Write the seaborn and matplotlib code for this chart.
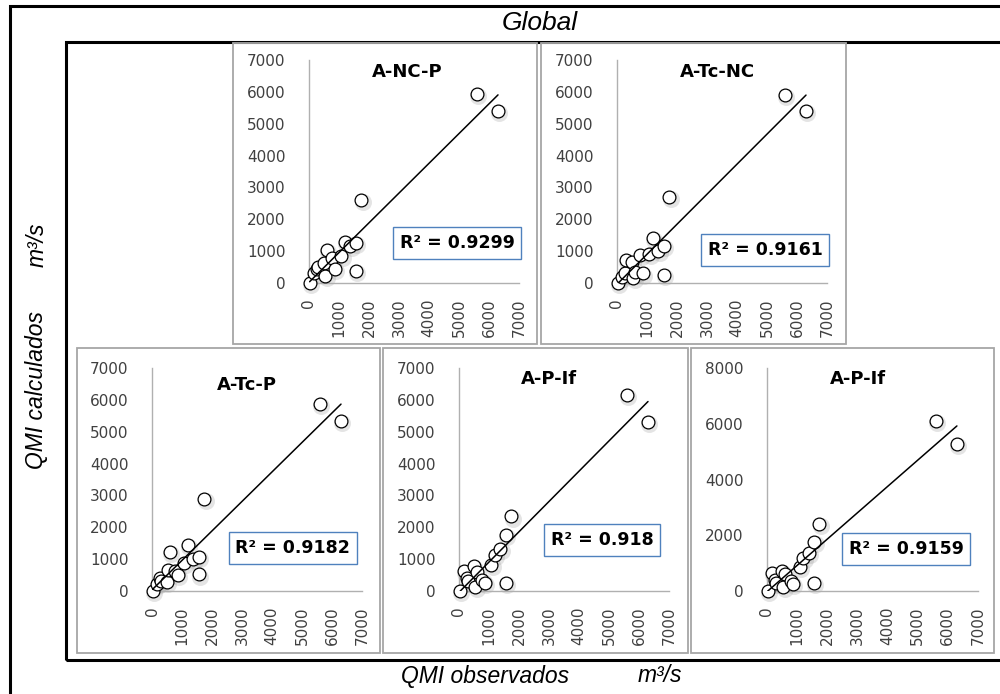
import numpy as np
import pandas as pd
import matplotlib
matplotlib.use("Agg")
import matplotlib.pyplot as plt
import matplotlib.transforms as mtransforms
from matplotlib.patches import Rectangle
import seaborn as sns

# QMI observados (m3/s), common to every model
OBSERVADOS = [20, 150, 250, 300, 500, 540, 600, 780, 850, 1080, 1200, 1380,
              1560, 1570, 1740, 5600, 6300]

# QMI calculados per model
CALC_A_NC_P = [0, 300, 430, 500, 630, 220, 1030, 770, 440, 840, 1280, 1150,
               380, 1260, 2600, 5940, 5400]
CALC_A_TC_NC = [0, 200, 300, 715, 660, 160, 330, 890, 300, 925, 1400, 1010,
                260, 1170, 2710, 5890, 5410]
CALC_A_TC_P = [0, 220, 400, 300, 270, 650, 1230, 630, 500, 870, 1440, 1000,
               520, 1080, 2900, 5860, 5330]
CALC_A_P_IF = [0, 640, 400, 300, 770, 140, 610, 350, 250, 820, 1130, 1320,
               240, 1760, 2340, 6140, 5300]
CALC_A_P_IF_2 = [0, 660, 390, 300, 720, 155, 600, 370, 250, 850, 1170, 1350,
                 275, 1770, 2390, 6090, 5270]

MODELS = ["A-NC-P", "A-Tc-NC", "A-Tc-P", "A-P-If", "A-P-If"]
R2_LABELS = ["R² = 0.9299", "R² = 0.9161", "R² = 0.9182", "R² = 0.918", "R² = 0.9159"]
Y_MAX = [7000, 7000, 7000, 7000, 8000]
Y_STEP = [1000, 1000, 1000, 1000, 2000]

W, H = 1000, 694

# layout in pixels: (plot left, plot bottom, plot width, plot height)
AX_PX = [(309, 283, 210, 223), (617, 283, 210, 223),
         (152, 591, 210, 223), (459, 591, 210, 223), (767, 591, 211, 223)]
BOX_PX = [(233, 43, 537, 344), (541, 43, 846, 344),
          (77, 348, 380, 653), (383, 348, 688, 653), (691, 348, 994, 653)]
TITLE_POS = [(0.467, 0.946), (0.48, 0.946), (0.45, 0.924), (0.43, 0.95), (0.43, 0.95)]
R2_POS = [(0.705, 0.18), (0.705, 0.148), (0.671, 0.193), (0.681, 0.229), (0.659, 0.188)]

sns.set_theme(style="white")
plt.rcParams['font.family'] = ['DejaVu Sans']

calc_lists = [CALC_A_NC_P, CALC_A_TC_NC, CALC_A_TC_P, CALC_A_P_IF, CALC_A_P_IF_2]

fig = plt.figure(figsize=(W / 100, H / 100), dpi=100)

# outer and inner black frames
fig.add_artist(Rectangle((10 / W, 1 - 700 / H), 1000 / W, 694 / H, transform=fig.transFigure,
                         fill=False, ec='black', lw=2.2, clip_on=False))
fig.add_artist(Rectangle((66 / W, 1 - 660 / H), 944 / W, 618 / H, transform=fig.transFigure,
                         fill=False, ec='black', lw=2.2, clip_on=False))

for i in range(5):
    df = pd.DataFrame({'observado': OBSERVADOS, 'calculado': calc_lists[i]})
    x0, y0, x1, y1 = BOX_PX[i]
    fig.add_artist(Rectangle((x0 / W, 1 - y1 / H), (x1 - x0) / W, (y1 - y0) / H,
                             transform=fig.transFigure, fill=False, ec='#a6a6a6', lw=1.3))
    l, b, w, h = AX_PX[i]
    ax = fig.add_axes([l / W, 1 - b / H, w / W, h / H])
    ax.set_facecolor('none')

    # soft shadow under markers
    shadow = mtransforms.offset_copy(ax.transData, fig=fig, x=1.0, y=-1.5, units='points')
    sns.scatterplot(data=df, x='observado', y='calculado', ax=ax, s=150, color='#888888',
                    alpha=0.22, linewidth=0, transform=shadow, legend=False)
    sns.scatterplot(data=df, x='observado', y='calculado', ax=ax, s=85, color='white',
                    edgecolor='black', linewidth=0.9, legend=False, zorder=3)
    # linear trendline on top of the markers
    sns.regplot(data=df, x='observado', y='calculado', ax=ax, scatter=False, ci=None,
                truncate=True, line_kws={'color': 'black', 'lw': 1.1, 'zorder': 4})
    for coll in ax.collections:
        coll.set_clip_on(False)

    ax.set_xlim(0, 7000)
    ax.set_ylim(0, Y_MAX[i])
    ax.set_xticks(np.arange(0, 7001, 1000))
    ax.set_yticks(np.arange(0, Y_MAX[i] + 1, Y_STEP[i]))
    ax.tick_params(axis='x', labelrotation=90, pad=11, length=0, labelsize=11, labelcolor='#404040')
    ax.tick_params(axis='y', pad=17, length=0, labelsize=11, labelcolor='#404040')
    for lab in ax.get_xticklabels():
        lab.set_va('top')
    ax.set_xlabel('')
    ax.set_ylabel('')
    for side in ['top', 'right']:
        ax.spines[side].set_visible(False)
    for side in ['left', 'bottom']:
        ax.spines[side].set_color('#b0b0b0')
        ax.spines[side].set_linewidth(1.0)

    ax.text(TITLE_POS[i][0], TITLE_POS[i][1], MODELS[i], transform=ax.transAxes,
            ha='center', va='center', fontsize=13, fontweight='bold', color='black')
    ax.text(R2_POS[i][0], R2_POS[i][1], R2_LABELS[i], transform=ax.transAxes,
            ha='center', va='center', fontsize=12.5, fontweight='bold', color='black',
            bbox=dict(boxstyle='square,pad=0.4', fc='white', ec='#4f81bd', lw=1.0), zorder=5)

narrow = ['Liberation Sans Narrow', 'Liberation Sans', 'DejaVu Sans']
fig.text(540 / W, 1 - 23 / H, 'Global', ha='center', va='center', fontsize=19,
         style='italic', family=narrow, color='black')
fig.text(485 / W, 1 - 677 / H, 'QMI observados', ha='center', va='center', fontsize=16.5,
         style='italic', family=narrow, color='black')
fig.text(660 / W, 1 - 675 / H, 'm³/s', ha='center', va='center', fontsize=16.5,
         style='italic', family=narrow, color='black')
fig.text(37 / W, 1 - 390 / H, 'QMI calculados', ha='center', va='center', fontsize=16.5,
         style='italic', rotation=90, family=narrow, color='black')
fig.text(37 / W, 1 - 245 / H, 'm³/s', ha='center', va='center', fontsize=16.5,
         style='italic', rotation=90, family=narrow, color='black')

fig.savefig('out.png', dpi=100, facecolor='white')
